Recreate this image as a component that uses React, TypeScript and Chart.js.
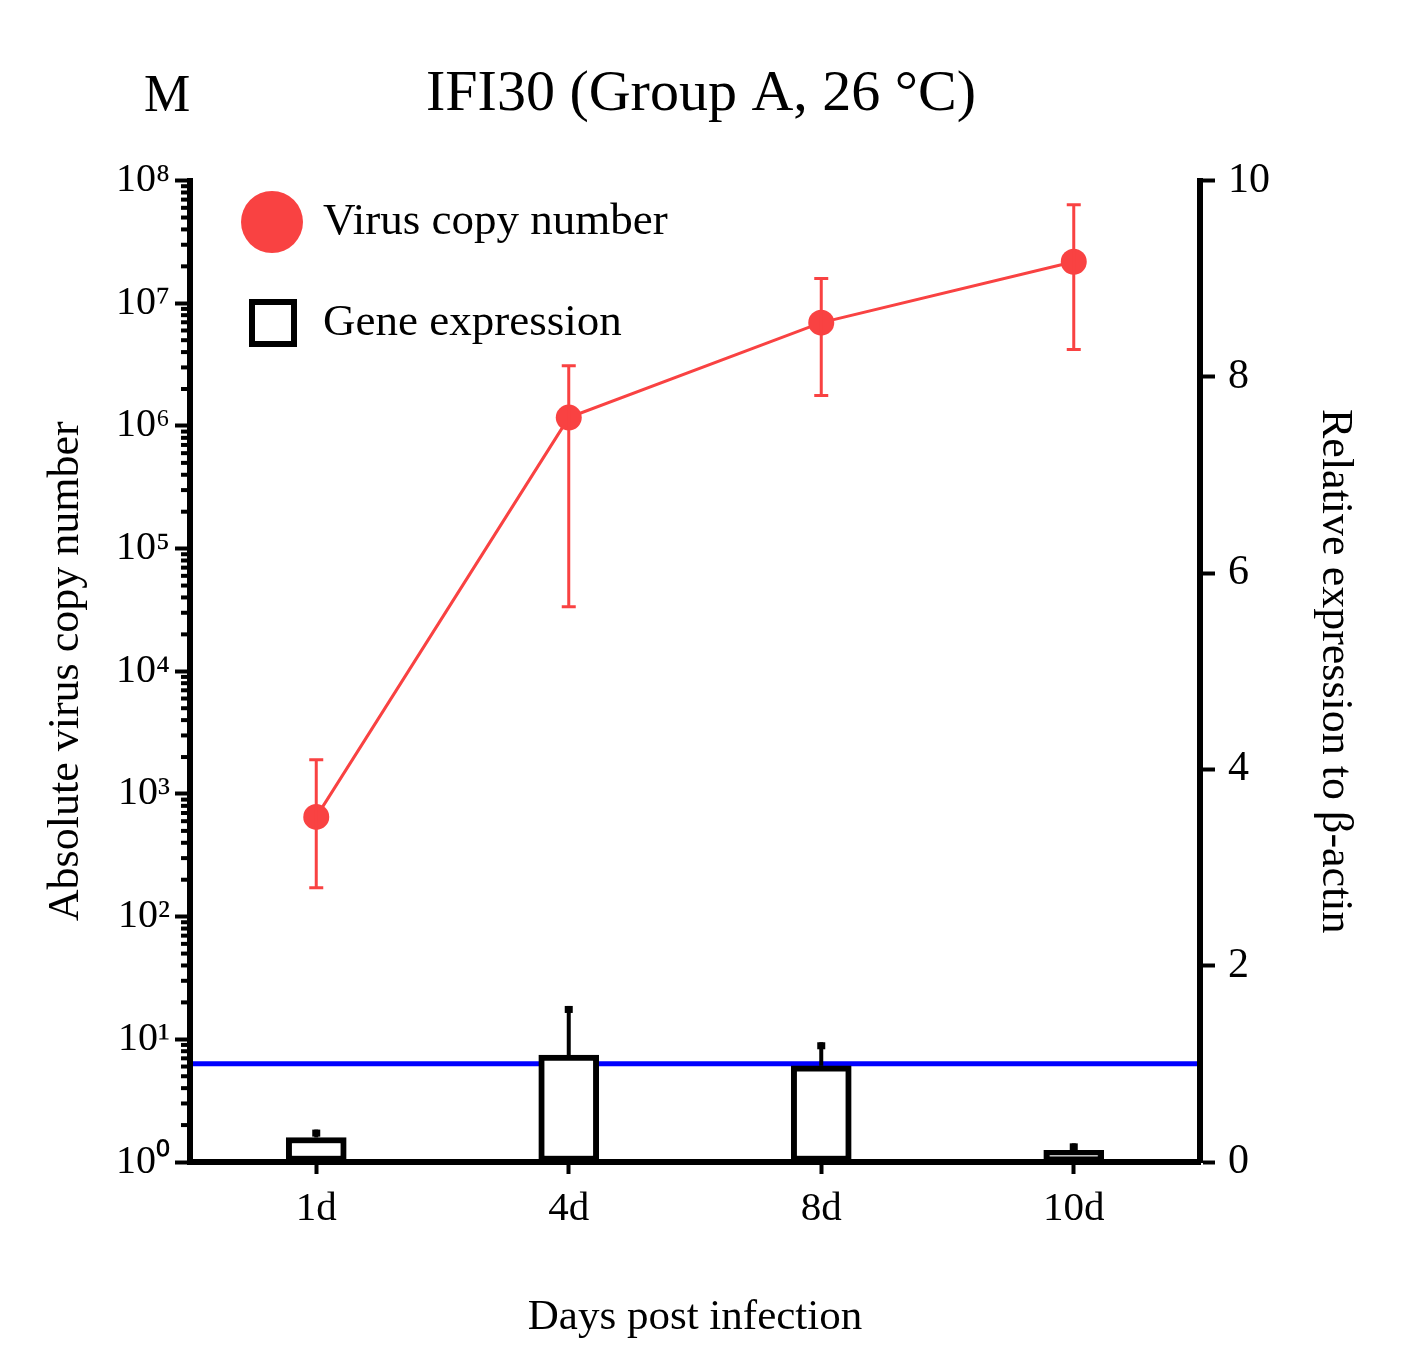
import { useEffect, useRef } from 'react'
import { Chart, registerables } from 'chart.js'

Chart.register(...registerables)

const DAYS = ['1d', '4d', '8d', '10d']

// virus copy number, left log axis: mean and the two ends of the error bar
const VIRUS_MEAN = [650, 1.17e6, 6.95e6, 2.18e7]
const VIRUS_HIGH = [1900, 3.1e6, 1.59e7, 6.37e7]
const VIRUS_LOW = [172, 3.36e4, 1.77e6, 4.19e6]

// relative expression to beta-actin, right axis
const GENE_MEAN = [0.25, 1.09, 0.98, 0.12]
const GENE_HIGH = [0.33, 1.59, 1.22, 0.19]

const BASELINE = 1
const LOG_TICKS = [1, 10, 100, 1e3, 1e4, 1e5, 1e6, 1e7, 1e8]
const RIGHT_TICKS = [0, 2, 4, 6, 8, 10]
const SUP = ['⁰', '¹', '²', '³', '⁴', '⁵', '⁶', '⁷', '⁸', '⁹']

const RED = '#F94242'
const BLUE = '#0000FF'
const FONT = '"Liberation Serif", "Times New Roman", serif'

const extras = {
  id: 'extras',
  beforeDatasetsDraw(chart: any) {
    const { ctx, chartArea } = chart
    const y = chart.scales.y2.getPixelForValue(BASELINE)
    ctx.save()
    ctx.strokeStyle = BLUE
    ctx.lineWidth = 5
    ctx.beginPath()
    ctx.moveTo(chartArea.left + 3, y)
    ctx.lineTo(chartArea.right - 3, y)
    ctx.stroke()
    ctx.restore()
  },
  afterDatasetsDraw(chart: any) {
    const { ctx } = chart
    const yLog = chart.scales.y
    const yLin = chart.scales.y2
    const lineMeta = chart.getDatasetMeta(0)
    const barMeta = chart.getDatasetMeta(1)
    ctx.save()

    // bar error bars (upper only)
    ctx.fillStyle = '#000'
    ctx.strokeStyle = '#000'
    ctx.lineWidth = 4
    barMeta.data.forEach((bar: any, i: number) => {
      const top = yLin.getPixelForValue(GENE_HIGH[i])
      const base = yLin.getPixelForValue(GENE_MEAN[i])
      ctx.beginPath()
      ctx.moveTo(bar.x, base)
      ctx.lineTo(bar.x, top)
      ctx.stroke()
      ctx.fillRect(bar.x - 4, top, 8, 7)
    })

    // virus error bars
    ctx.strokeStyle = RED
    ctx.lineWidth = 3
    lineMeta.data.forEach((pt: any, i: number) => {
      const hi = yLog.getPixelForValue(VIRUS_HIGH[i])
      const lo = yLog.getPixelForValue(VIRUS_LOW[i])
      ctx.beginPath()
      ctx.moveTo(pt.x, hi)
      ctx.lineTo(pt.x, lo)
      ctx.moveTo(pt.x - 7, hi)
      ctx.lineTo(pt.x + 7, hi)
      ctx.moveTo(pt.x - 7, lo)
      ctx.lineTo(pt.x + 7, lo)
      ctx.stroke()
    })
    ctx.restore()
  },
  afterDraw(chart: any) {
    const { ctx, chartArea } = chart
    const yLog = chart.scales.y
    ctx.save()

    // minor ticks on the log axis
    ctx.strokeStyle = '#000'
    ctx.lineWidth = 4
    for (let n = 0; n < 8; n++) {
      for (let k = 2; k < 10; k++) {
        const y = yLog.getPixelForValue(k * Math.pow(10, n))
        ctx.beginPath()
        ctx.moveTo(chartArea.left - 9, y)
        ctx.lineTo(chartArea.left, y)
        ctx.stroke()
      }
    }

    // legend
    const labels = chart.data.datasets.map((d: any) => d.label)
    ctx.fillStyle = RED
    ctx.beginPath()
    ctx.arc(272, 222, 31, 0, Math.PI * 2)
    ctx.fill()
    ctx.strokeStyle = '#000'
    ctx.lineWidth = 6
    ctx.strokeRect(252, 302, 42, 42)
    ctx.fillStyle = '#000'
    ctx.font = `45px ${FONT}`
    ctx.textBaseline = 'middle'
    ctx.textAlign = 'left'
    ctx.fillText(labels[0], 323, 222)
    ctx.fillText(labels[1], 323, 323)

    // panel letter
    ctx.font = `52px ${FONT}`
    ctx.textAlign = 'center'
    ctx.fillText('M', 167, 97)
    ctx.restore()
  },
}

export default function App() {
  const ref = useRef<HTMLCanvasElement>(null)

  useEffect(() => {
    if (!ref.current) return
    Chart.defaults.font.family = FONT
    Chart.defaults.color = '#000'

    const chart = new Chart(ref.current, {
      type: 'bar',
      data: {
        labels: DAYS,
        datasets: [
          {
            type: 'line',
            label: 'Virus copy number',
            data: VIRUS_MEAN,
            yAxisID: 'y',
            borderColor: RED,
            backgroundColor: RED,
            borderWidth: 3,
            pointRadius: 13,
            pointBorderWidth: 0,
            tension: 0,
          },
          {
            type: 'bar',
            label: 'Gene expression',
            data: GENE_MEAN,
            yAxisID: 'y2',
            backgroundColor: '#fff',
            borderColor: '#000',
            borderWidth: 6,
            borderSkipped: false,
            barThickness: 60,
          },
        ] as any,
      },
      options: {
        animation: false,
        responsive: true,
        maintainAspectRatio: false,
        layout: { padding: 0 },
        plugins: {
          legend: { display: false },
          tooltip: { enabled: false },
          title: {
            display: true,
            text: 'IFI30 (Group A, 26 °C)',
            font: { size: 58, weight: 'normal' },
            color: '#000',
            padding: { top: 60, bottom: 51 },
          },
        },
        scales: {
          x: {
            offset: true,
            grid: {
              offset: false,
              drawOnChartArea: false,
              drawTicks: true,
              tickLength: 12,
              tickWidth: 4,
              color: '#000',
            },
            border: { color: '#000', width: 6 },
            ticks: { font: { size: 41 }, padding: 11, color: '#000' },
            title: {
              display: true,
              text: 'Days post infection',
              font: { size: 43 },
              color: '#000',
              padding: { top: 0, bottom: 28 },
            },
            afterFit(scale: any) {
              scale.height = 210
            },
          },
          y: {
            type: 'logarithmic',
            position: 'left',
            min: 1,
            max: 1e8,
            afterBuildTicks(scale: any) {
              scale.ticks = LOG_TICKS.map((v) => ({ value: v }))
            },
            grid: {
              drawOnChartArea: false,
              drawTicks: true,
              tickLength: 15,
              tickWidth: 4,
              color: '#000',
            },
            border: { color: '#000', width: 6 },
            ticks: {
              font: { size: 40 },
              padding: 5,
              color: '#000',
              autoSkip: false,
              callback: (v: any) => '10' + SUP[Math.round(Math.log10(Number(v)))],
            },
            title: {
              display: true,
              text: 'Absolute virus copy number',
              font: { size: 44 },
              color: '#000',
              padding: { top: 40, bottom: 0 },
            },
            afterFit(scale: any) {
              scale.width = 190
            },
          },
          y2: {
            type: 'linear',
            position: 'right',
            min: 0,
            max: 10,
            afterBuildTicks(scale: any) {
              scale.ticks = RIGHT_TICKS.map((v) => ({ value: v }))
            },
            grid: {
              drawOnChartArea: false,
              drawTicks: true,
              tickLength: 15,
              tickWidth: 4,
              color: '#000',
            },
            border: { color: '#000', width: 6 },
            ticks: { font: { size: 42 }, padding: 13, color: '#000' },
            title: {
              display: true,
              text: 'Relative expression to β-actin',
              font: { size: 44 },
              color: '#000',
              padding: { top: 41, bottom: 0 },
            },
            afterFit(scale: any) {
              scale.width = 202
            },
          },
        },
      } as any,
      plugins: [extras],
    })

    return () => chart.destroy()
  }, [])

  return (
    <div
      style={{
        position: 'fixed',
        left: 0,
        top: 0,
        width: 1402,
        height: 1372,
        background: '#fff',
      }}
    >
      <canvas ref={ref} role="img" aria-label="IFI30 virus copy number and gene expression" />
    </div>
  )
}
